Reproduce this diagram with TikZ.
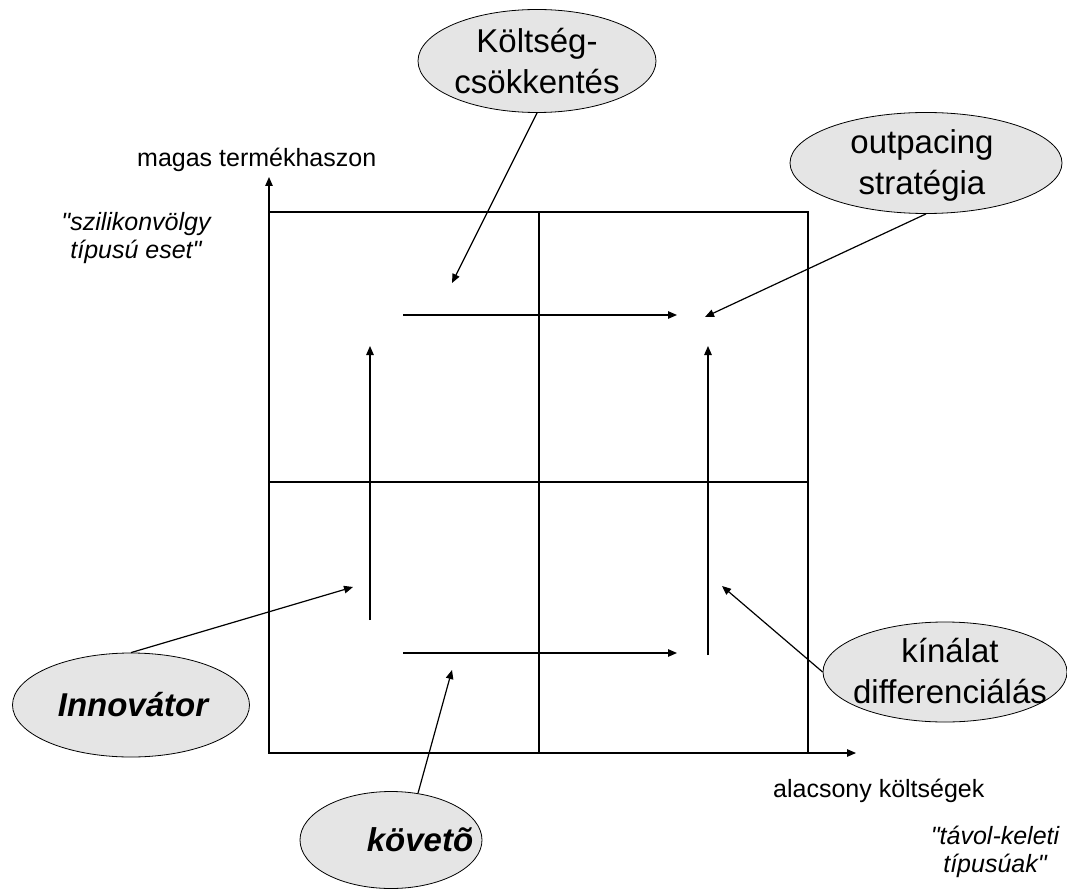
\documentclass[tikz,border=0pt]{standalone}
\usepackage{fontspec}
\setmainfont{Liberation Sans}[Ligatures={NoCommon}]
\usetikzlibrary{shapes.geometric,arrows.meta}
\begin{document}
\begin{tikzpicture}[x=1pt,y=-1pt,
  ln/.style={line width=1.2pt},
  arr/.style={line width=1.2pt,-{Triangle[length=9pt,width=7.5pt]}},
  ell/.style={ellipse,draw,line width=0.8pt,fill=black!10,inner sep=0pt},
  big/.style={font=\fontsize{33}{41}\selectfont,align=center,inner sep=0pt},
  bigbi/.style={font=\fontsize{33}{41}\selectfont\bfseries\itshape,inner sep=0pt},
  small/.style={font=\fontsize{25}{28}\selectfont,inner sep=0pt},
  smallit/.style={font=\fontsize{25}{28}\selectfont\itshape,align=center,inner sep=0pt}]
\useasboundingbox (0,0) rectangle (1067,890);
% axes and grid
\coordinate (O) at (269,753);
\coordinate (Ytip) at (269,177);
\coordinate (Xtip) at (856,753);
\coordinate (TL) at (269,212);
\coordinate (BR) at (808,753);
\draw[ln] (TL) rectangle (BR);
\draw[ln] (539,212) -- (539,753);
\draw[ln] (269,482) -- (808,482);
\draw[arr] (O) -- (Ytip);
\draw[arr] (O) -- (Xtip);
% inner arrows
\coordinate (a1s) at (403,315); \coordinate (a1e) at (677,315);
\coordinate (a2s) at (403,653); \coordinate (a2e) at (677,653);
\coordinate (a3s) at (370,620); \coordinate (a3e) at (370,346);
\coordinate (a4s) at (708,655); \coordinate (a4e) at (708,346);
\draw[arr] (a1s) -- (a1e);
\draw[arr] (a2s) -- (a2e);
\draw[arr] (a3s) -- (a3e);
\draw[arr] (a4s) -- (a4e);
% axis labels
\node[small,anchor=base west] (ylab) at (137,167) {magas termékhaszon};
\node[small,anchor=base west] (xlab) at (773,797) {alacsony költségek};
\node[smallit] (szil) at (136,238) {\textquotedbl szilikonvölgy\\típusú eset\textquotedbl};
\node[smallit] (tavol) at (995,852) {\textquotedbl távol-keleti\\típusúak\textquotedbl};
% ellipses
\node[ell,minimum width=238pt,minimum height=103pt] (k) at (537,61) {};
\node[big] (kt) at (537,61) {Költség-\\csökkentés};
\node[ell,minimum width=272pt,minimum height=101pt] (o) at (926,163) {};
\node[big] (ot) at (922,165) {outpacing\\stratégia};
\node[ell,minimum width=237pt,minimum height=104pt] (i) at (131,705) {};
\node[bigbi] (it) at (133,705) {Innovátor};
\node[ell,minimum width=182pt,minimum height=97pt] (kv) at (391,840) {};
\node[bigbi] (kvt) at (420,840) {követõ};
\node[ell,minimum width=244pt,minimum height=100pt] (kd) at (945,672) {};
\node[big] (kdt) at (950,671) {kínálat\\differenciálás};
% pointer arrows
\coordinate (kEnd) at (452,283);
\coordinate (oEnd) at (705,317);
\coordinate (iEnd) at (353,587);
\coordinate (kvEnd) at (452,670);
\coordinate (kdEnd) at (722,586);
\draw[arr] (k.south) -- (kEnd);
\draw[arr] (o.south) -- (oEnd);
\draw[arr] (i.north) -- (iEnd);
\draw[arr] (kv.60) -- (kvEnd);
\draw[arr] (kd.west) -- (kdEnd);
\end{tikzpicture}
\end{document}
